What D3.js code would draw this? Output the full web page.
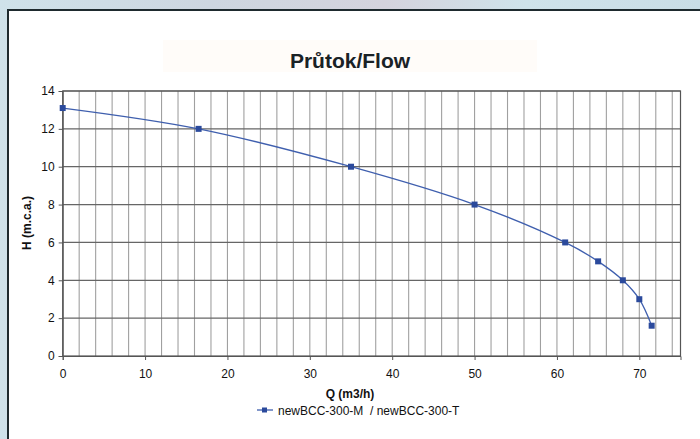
<!DOCTYPE html>
<html>
<head>
<meta charset="utf-8">
<script src="https://cdn.jsdelivr.net/npm/d3@7"></script>
<style>
html,body{margin:0;padding:0;}
body{width:700px;height:439px;overflow:hidden;font-family:"Liberation Sans",Arial,sans-serif;}
</style>
</head>
<body>
<script>
const flowQ = [0, 16.5, 35, 50, 61, 65, 68, 70, 71.5];
const headH = [13.1, 12, 10, 8, 6, 5, 4, 3, 1.6];
const xTicks = [0, 10, 20, 30, 40, 50, 60, 70];
const yTicks = [0, 2, 4, 6, 8, 10, 12, 14];
const seriesName = "newBCC-300-M  / newBCC-300-T";
const titleText = "Průtok/Flow";
const xTitle = "Q (m3/h)";
const yTitle = "H (m.c.a.)";

const W = 700, H = 439;
const svg = d3.select("body").append("svg").attr("width", W).attr("height", H);

// background
const defs = svg.append("defs");
const bg = defs.append("linearGradient").attr("id","bg").attr("x1",0).attr("x2",1).attr("y1",0).attr("y2",0);
bg.append("stop").attr("offset","0%").attr("stop-color","#cfe2ea");
bg.append("stop").attr("offset","30%").attr("stop-color","#cdd6e0");
bg.append("stop").attr("offset","55%").attr("stop-color","#d4d3dd");
bg.append("stop").attr("offset","75%").attr("stop-color","#cfe3ea");
bg.append("stop").attr("offset","100%").attr("stop-color","#c9dde6");
svg.append("rect").attr("width",W).attr("height",H).attr("fill","url(#bg)");

// white panel
svg.append("rect").attr("x",7).attr("y",9).attr("width",W-7).attr("height",H-9).attr("fill","#ffffff");
svg.append("path").attr("d",`M8,${H} V10 H${W}`).attr("fill","none").attr("stroke","#1e2a2e").attr("stroke-width",2);

// title
svg.append("rect").attr("x",163).attr("y",40).attr("width",374).attr("height",32).attr("fill","#fffcf9");
svg.append("text").attr("x",350).attr("y",68).attr("text-anchor","middle")
  .attr("font-size",21).attr("font-weight","bold").attr("fill","#1a2226").text(titleText);

const m = {left:62.7, right:680.5, top:91, bottom:356};
const x = d3.scaleLinear().domain([0,75]).range([m.left, m.right]);
const y = d3.scaleLinear().domain([0,14]).range([m.bottom, m.top]);

const g = svg.append("g");
// vertical minor gridlines every 2
const vLines = d3.range(2, 75, 2);
g.selectAll("line.v").data(vLines).enter().append("line")
  .attr("x1",d=>x(d)).attr("x2",d=>x(d)).attr("y1",m.top).attr("y2",m.bottom)
  .attr("stroke","#a0a0a0").attr("stroke-width",1.1);
// horizontal gridlines
g.selectAll("line.h").data(yTicks.slice(1)).enter().append("line")
  .attr("x1",m.left).attr("x2",m.right).attr("y1",d=>y(d)).attr("y2",d=>y(d))
  .attr("stroke","#666").attr("stroke-width",1.2);
// plot border
g.append("rect").attr("x",m.left).attr("y",m.top).attr("width",m.right-m.left).attr("height",m.bottom-m.top)
  .attr("fill","none").attr("stroke","#555").attr("stroke-width",1.2);

// axes
const yAxis = d3.axisLeft(y).tickValues(yTicks).tickSize(4).tickPadding(4).tickFormat(d3.format("d"));
const ya = svg.append("g").attr("transform",`translate(${m.left},0)`).call(yAxis);
const xAxis = d3.axisBottom(x).tickValues(xTicks).tickSize(4).tickPadding(9).tickFormat(d3.format("d"));
const xa = svg.append("g").attr("transform",`translate(0,${m.bottom})`).call(xAxis);
[ya, xa].forEach(a=>{
  a.select(".domain").attr("stroke","#555");
  a.selectAll(".tick line").attr("stroke","#555");
  a.selectAll(".tick text").attr("font-size",12).attr("fill","#111").attr("font-family","Liberation Sans, Arial, sans-serif");
});

// axis titles
svg.append("text").attr("x",350).attr("y",398).attr("text-anchor","middle")
  .attr("font-size",12).attr("font-weight","bold").attr("fill","#111").text(xTitle);
svg.append("text").attr("transform","translate(31,223) rotate(-90)").attr("text-anchor","middle")
  .attr("font-size",12).attr("font-weight","bold").attr("fill","#111").text(yTitle);

// series
const data = flowQ.map((q,i)=>({q, h: headH[i]}));
const line = d3.line().x(d=>x(d.q)).y(d=>y(d.h)).curve(d3.curveCatmullRom.alpha(0.5));
svg.append("path").datum(data).attr("d",line).attr("fill","none")
  .attr("stroke","#3f5fae").attr("stroke-width",1.3);
svg.selectAll("rect.pt").data(data).enter().append("rect")
  .attr("x",d=>x(d.q)-3).attr("y",d=>y(d.h)-3).attr("width",6).attr("height",6)
  .attr("fill","#2b4a9c");

// legend
const lg = svg.append("g");
lg.append("line").attr("x1",257).attr("x2",273).attr("y1",410).attr("y2",410).attr("stroke","#3f5fae").attr("stroke-width",1.3);
lg.append("rect").attr("x",262).attr("y",407.5).attr("width",5).attr("height",5).attr("fill","#2b4a9c");
lg.append("text").attr("x",278).attr("y",414.5).attr("font-size",12).attr("fill","#111")
  .attr("xml:space","preserve").style("white-space","pre").text(seriesName);
</script>
</body>
</html>
